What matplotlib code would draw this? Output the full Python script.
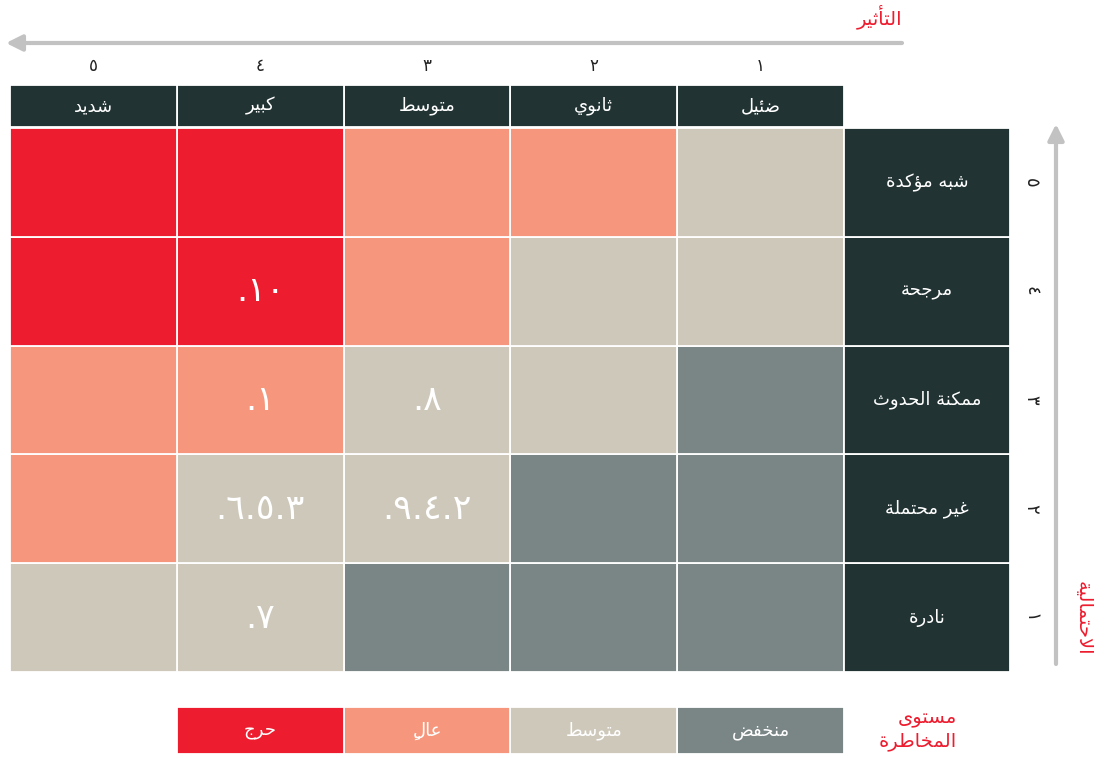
import matplotlib
matplotlib.use("Agg")
import matplotlib.pyplot as plt
from matplotlib.patches import Rectangle

plt.rcParams['font.family'] = ['DejaVu Sans']

# ---- data ----
impact_labels = ['ضئيل', 'ثانوي', 'متوسط', 'كبير', 'شديد']          # impact 1..5
impact_nums = ['١', '٢', '٣', '٤', '٥']
likelihood_labels = ['نادرة', 'غير محتملة', 'ممكنة الحدوث', 'مرجحة', 'شبه مؤكدة']  # 1..5
likelihood_nums = ['١', '٢', '٣', '٤', '٥']
risk_names = ['منخفض', 'متوسط', 'عالٍ', 'حرج']
risk_colors = ['#7a8586', '#cec8bb', '#f6977d', '#ed1c2e']
# risk level per likelihood (rows, 1..5) and impact (cols, 1..5)
risk_level = [
    [0, 0, 0, 1, 1],
    [0, 0, 1, 1, 2],
    [0, 1, 1, 2, 2],
    [1, 1, 2, 3, 3],
    [1, 2, 2, 3, 3],
]
# (likelihood, impact) -> risk ids
risk_items = {
    (4, 4): ['١٠'],
    (3, 4): ['١'],
    (3, 3): ['٨'],
    (2, 4): ['٣', '٥', '٦'],
    (2, 3): ['٢', '٤', '٩'],
    (1, 4): ['٧'],
}
impact_title = 'التأثير'
likelihood_title = 'الاحتمالية'
legend_title = ['مستوى', 'المخاطرة']

DARK = '#223333'
RED = '#ed1c2e'
ARROW = '#c2c2c2'

# ---- minimal arabic shaping (matplotlib has no shaping / bidi) ----
FORMS = {
    'ا': (0xFE8D, 2), 'أ': (0xFE83, 2), 'ؤ': (0xFE85, 2), 'ئ': (0xFE89, 4),
    'ب': (0xFE8F, 4), 'ة': (0xFE93, 2), 'ت': (0xFE95, 4), 'ث': (0xFE99, 4),
    'ج': (0xFE9D, 4), 'ح': (0xFEA1, 4), 'خ': (0xFEA5, 4), 'د': (0xFEA9, 2),
    'ر': (0xFEAD, 2), 'س': (0xFEB1, 4), 'ش': (0xFEB5, 4), 'ض': (0xFEBD, 4),
    'ط': (0xFEC1, 4), 'ع': (0xFEC9, 4), 'غ': (0xFECD, 4), 'ف': (0xFED1, 4),
    'ك': (0xFED9, 4), 'ل': (0xFEDD, 4), 'م': (0xFEE1, 4), 'ن': (0xFEE5, 4),
    'ه': (0xFEE9, 4), 'و': (0xFEED, 2), 'ى': (0xFEEF, 2), 'ي': (0xFEF1, 4),
}
LIG = {'لا': 0xFEFB, 'لأ': 0xFEF7}
MARKS = set('\u064b\u064c\u064d\u064e\u064f\u0650\u0651\u0652')


def shape(text):
    units = []
    chars = list(text)
    i = 0
    while i < len(chars):
        c = chars[i]
        if c in MARKS and units:
            units[-1][1] += c
        elif c == 'ل' and i + 1 < len(chars) and chars[i + 1] in 'اأ':
            units.append(['ل' + chars[i + 1], ''])
            i += 1
        else:
            units.append([c, ''])
        i += 1

    def joins_next(u):
        return u in FORMS and FORMS[u][1] == 4

    def is_letter(u):
        return u in FORMS or u in LIG

    out = []
    for k, (u, m) in enumerate(units):
        prev = units[k - 1][0] if k > 0 else None
        nxt = units[k + 1][0] if k + 1 < len(units) else None
        jp = prev is not None and joins_next(prev) and is_letter(u)
        jn = joins_next(u) and nxt is not None and is_letter(nxt)
        if u in LIG:
            g = chr(LIG[u] + (1 if jp else 0))
        elif u in FORMS:
            base, n = FORMS[u]
            if jp and jn:
                f = 3
            elif jn:
                f = 2
            elif jp:
                f = 1
            else:
                f = 0
            g = chr(base + f)
        else:
            g = u
        # zero-width mark goes first so it lands on its own letter
        out.append(m + g)
    return ''.join(reversed(out))


def ids_text(ids):
    # rtl list "a.b.c." shown left to right
    return '.' + '.'.join(reversed(ids))


# ---- layout ----
X0 = 10
CW = 166.8
HDR_TOP = 85
HDR_H = 42
ROW_TOP = 128
RH = 108.8
n = 5

fig = plt.figure(figsize=(11.1, 7.58), dpi=100)
ax = fig.add_axes([0, 0, 1, 1])
ax.set_xlim(0, 1110)
ax.set_ylim(758, 0)
ax.axis('off')

# matrix cells
for li in range(n):
    r = n - 1 - li
    for ii in range(n):
        c = n - 1 - ii
        x = X0 + c * CW
        y = ROW_TOP + r * RH
        ax.add_patch(Rectangle((x, y), CW, RH, facecolor=risk_colors[risk_level[li][ii]],
                               edgecolor='white', lw=1.3))
        ids = risk_items.get((li + 1, ii + 1))
        if ids:
            ax.text(x + CW / 2, y + RH / 2, ids_text(ids), color='white', fontsize=25,
                    ha='center', va='center')

# column headers
for ii in range(n):
    c = n - 1 - ii
    x = X0 + c * CW
    ax.add_patch(Rectangle((x, HDR_TOP), CW, HDR_H, facecolor=DARK, edgecolor='white', lw=1.3))
    ax.text(x + CW / 2, HDR_TOP + HDR_H / 2, shape(impact_labels[ii]), color='white',
            fontsize=13, ha='center', va='center')
    ax.text(x + CW / 2, 66, impact_nums[ii], color='#222222', fontsize=12,
            ha='center', va='center')

# row labels
LX = X0 + n * CW
for li in range(n):
    r = n - 1 - li
    y = ROW_TOP + r * RH
    ax.add_patch(Rectangle((LX, y), 1010 - LX, RH, facecolor=DARK, edgecolor='white', lw=1.3))
    ax.text((LX + 1010) / 2, y + RH / 2, shape(likelihood_labels[li]), color='white',
            fontsize=13, ha='center', va='center')
    ax.text(1031, y + RH / 2, likelihood_nums[li], color='#222222', fontsize=13,
            ha='center', va='center', rotation=270)

# axis arrows
ax.annotate('', xy=(6, 43), xytext=(902, 43),
            arrowprops=dict(arrowstyle='-|>', color=ARROW, lw=3, mutation_scale=24,
                            shrinkA=0, shrinkB=0))
ax.text(902, 17, shape(impact_title), color=RED, fontsize=14, ha='right', va='center')

ax.annotate('', xy=(1056, 124), xytext=(1056, 664),
            arrowprops=dict(arrowstyle='-|>', color=ARROW, lw=3, mutation_scale=24,
                            shrinkA=0, shrinkB=0))
ax.text(1083, 618, shape(likelihood_title), color=RED, fontsize=14, ha='center',
        va='center', rotation=270)

# legend
LY = 707
LH = 47
for k in range(len(risk_names)):
    c = n - 1 - k
    x = X0 + c * CW
    ax.add_patch(Rectangle((x, LY), CW, LH, facecolor=risk_colors[k], edgecolor='white', lw=1.3))
    ax.text(x + CW / 2, LY + LH / 2, shape(risk_names[k]), color='white', fontsize=13,
            ha='center', va='center')
ax.text(957, 730, '\n'.join(shape(t) for t in legend_title), color=RED, fontsize=14,
        ha='right', va='center', multialignment='right', linespacing=1.2)

fig.savefig('out.png', dpi=100)
